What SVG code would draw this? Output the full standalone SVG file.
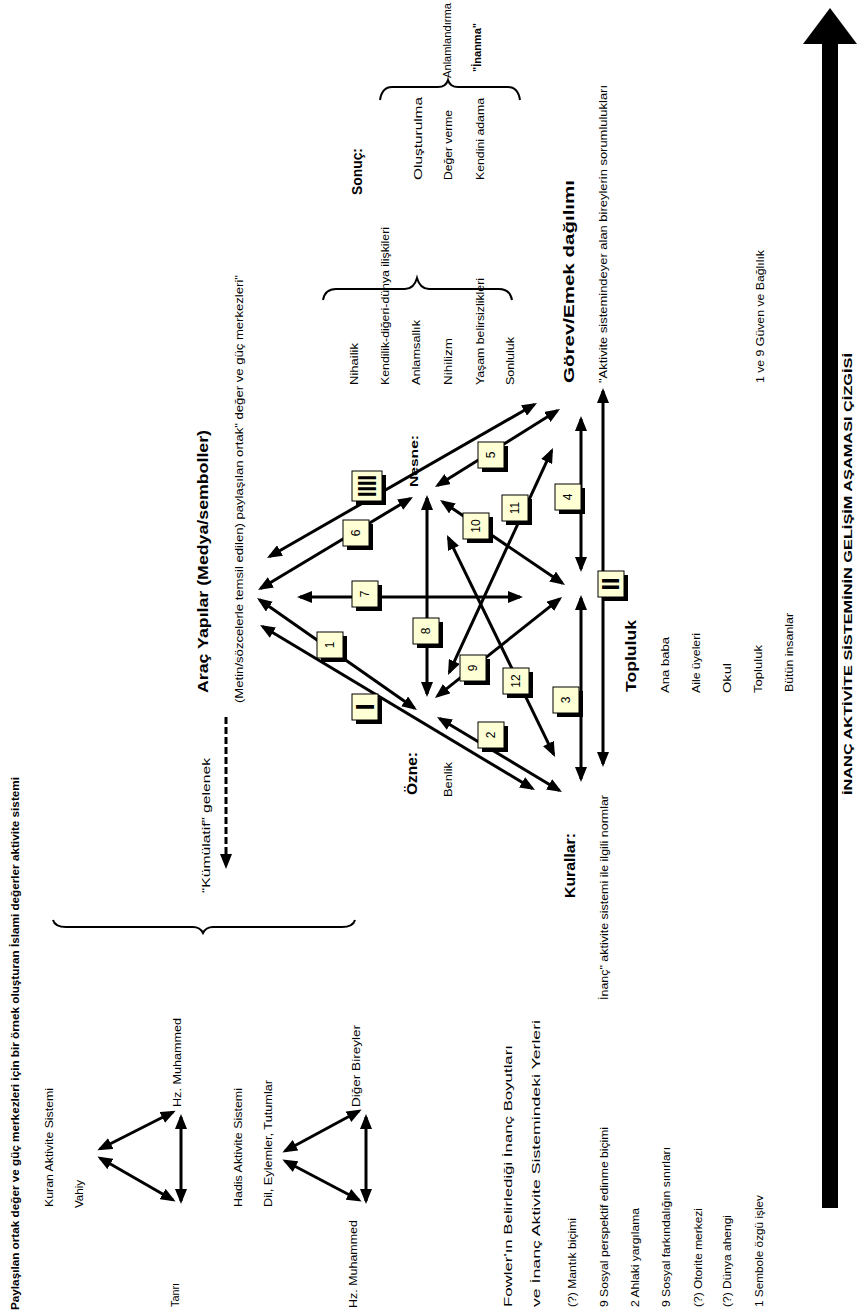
<svg xmlns="http://www.w3.org/2000/svg" width="857" height="1315" viewBox="0 0 857 1315">
<defs>
<marker id="ah" viewBox="0 0 10 8" refX="8" refY="4" markerWidth="5" markerHeight="4" orient="auto-start-reverse" markerUnits="strokeWidth"><path d="M0,0 L10,4 L0,8 z" fill="#000"/></marker>
<marker id="ahd" viewBox="0 0 10 8" refX="8" refY="4" markerWidth="5" markerHeight="4.5" orient="auto" markerUnits="strokeWidth"><path d="M0,0 L10,4 L0,8 z" fill="#000"/></marker>
<style>
.t{font-family:"Liberation Sans",Arial,sans-serif;font-size:11px;fill:#000}
.b{font-weight:bold}
.h{font-size:14px;font-weight:bold}
.ln{stroke:#000;stroke-width:3;fill:none;marker-start:url(#ah);marker-end:url(#ah)}
.br{stroke:#000;stroke-width:2;fill:none}
.bx{fill:#FFFFD5;stroke:#000;stroke-width:1}
.sh{fill:#000}
.n{font-family:"Liberation Sans",Arial,sans-serif;font-size:12px;text-anchor:middle}
.r{font-family:"Liberation Sans",Arial,sans-serif;font-weight:bold;text-anchor:middle}
</style>
</defs>
<rect width="857" height="1315" fill="#fff"/>

<!-- connectors -->
<g id="connectors">
<line class="ln" x1="269.6" y1="556.5" x2="534.4" y2="404.5"/>
<line class="ln" x1="260.6" y1="588.5" x2="410.4" y2="498.5"/>
<line class="ln" x1="259.5" y1="599.7" x2="414.5" y2="708.3"/>
<line class="ln" x1="262.6" y1="626.5" x2="532.4" y2="788.5"/>
<line class="ln" x1="439.6" y1="718.5" x2="559.4" y2="790.5"/>
<line class="ln" x1="437.5" y1="485.4" x2="557.5" y2="410.6"/>
<line class="ln" x1="300" y1="597" x2="520" y2="597"/>
<line class="ln" x1="427" y1="498" x2="427" y2="694"/>
<line class="ln" x1="437.3" y1="696.1" x2="559.7" y2="598.9"/>
<line class="ln" x1="442.5" y1="501.7" x2="562.5" y2="583.3"/>
<line class="ln" x1="449.3" y1="672.3" x2="551.7" y2="450.7"/>
<line class="ln" x1="448.3" y1="537.7" x2="553.7" y2="754.3"/>
<line class="ln" x1="581" y1="419" x2="581" y2="569"/>
<line class="ln" x1="581" y1="598" x2="581" y2="779"/>
<line class="ln" x1="603" y1="391" x2="603" y2="764"/>
<!-- small triangles -->
<line class="ln" x1="100" y1="1149" x2="173" y2="1112"/>
<line class="ln" x1="100" y1="1158" x2="173" y2="1200"/>
<line class="ln" x1="181" y1="1117" x2="181" y2="1201"/>
<line class="ln" x1="285" y1="1151" x2="359" y2="1111"/>
<line class="ln" x1="285" y1="1161" x2="359" y2="1200"/>
<line class="ln" x1="366" y1="1117" x2="366" y2="1201"/>
<!-- dashed -->
<line x1="226" y1="717" x2="226" y2="866" stroke="#000" stroke-width="3" stroke-dasharray="7,3" marker-end="url(#ahd)"/>
</g>

<!-- braces -->
<g id="braces">
<path class="br" d="M53,920 Q55,927 66,927 L193,927 Q200,927 203,933 Q206,927 213,927 L342,927 Q353,927 355,920"/>
<path class="br" d="M323,300 Q325,289 336,289 L405,289 Q414,289 417,278 Q420,289 429,289 L499,289 Q510,289 512,300"/>
<path class="br" d="M380,100 Q382,87 392,87 L438,87 Q446,87 448,80 Q450,87 458,87 L508,87 Q518,87 520,100"/>
</g>

<!-- big arrow -->
<g id="timeline">
<rect x="822" y="40" width="16" height="1168" fill="#000"/>
<polygon points="830,8 857,44 803,44" fill="#000"/>
<text class="t b" font-size="15" transform="translate(852,795) rotate(-90)" textLength="442" lengthAdjust="spacingAndGlyphs">İNANÇ AKTİVİTE SİSTEMİNİN GELİŞİM AŞAMASI ÇİZGİSİ</text>
</g>

<!-- boxes -->
<g id="box-1"><rect x="321" y="636" width="26" height="26" class="sh"/><rect x="317" y="632" width="26" height="26" class="bx"/><text class="n" transform="translate(334.3,645) rotate(-90)">1</text></g>
<g id="box-2"><rect x="482" y="726" width="26" height="26" class="sh"/><rect x="478" y="722" width="26" height="26" class="bx"/><text class="n" transform="translate(495.3,735) rotate(-90)">2</text></g>
<g id="box-3"><rect x="557" y="691" width="26" height="26" class="sh"/><rect x="553" y="687" width="26" height="26" class="bx"/><text class="n" transform="translate(570.3,700) rotate(-90)">3</text></g>
<g id="box-4"><rect x="559" y="488" width="26" height="26" class="sh"/><rect x="555" y="484" width="26" height="26" class="bx"/><text class="n" transform="translate(572.3,497) rotate(-90)">4</text></g>
<g id="box-5"><rect x="482" y="446" width="26" height="26" class="sh"/><rect x="478" y="442" width="26" height="26" class="bx"/><text class="n" transform="translate(495.3,455) rotate(-90)">5</text></g>
<g id="box-6"><rect x="347" y="524" width="26" height="26" class="sh"/><rect x="343" y="520" width="26" height="26" class="bx"/><text class="n" transform="translate(360.3,533) rotate(-90)">6</text></g>
<g id="box-7"><rect x="356" y="585" width="26" height="26" class="sh"/><rect x="352" y="581" width="26" height="26" class="bx"/><text class="n" transform="translate(369.3,594) rotate(-90)">7</text></g>
<g id="box-8"><rect x="417" y="622" width="26" height="26" class="sh"/><rect x="413" y="618" width="26" height="26" class="bx"/><text class="n" transform="translate(430.3,631) rotate(-90)">8</text></g>
<g id="box-9"><rect x="464" y="659" width="26" height="26" class="sh"/><rect x="460" y="655" width="26" height="26" class="bx"/><text class="n" transform="translate(477.3,668) rotate(-90)">9</text></g>
<g id="box-10"><rect x="467" y="517" width="26" height="26" class="sh"/><rect x="463" y="513" width="26" height="26" class="bx"/><text class="n" transform="translate(480.3,526) rotate(-90)">10</text></g>
<g id="box-11"><rect x="506" y="499" width="26" height="26" class="sh"/><rect x="502" y="495" width="26" height="26" class="bx"/><text class="n" transform="translate(519.3,508) rotate(-90)">11</text></g>
<g id="box-12"><rect x="507" y="672" width="26" height="26" class="sh"/><rect x="503" y="668" width="26" height="26" class="bx"/><text class="n" transform="translate(520.3,681) rotate(-90)">12</text></g>
<g id="box-I"><rect x="356" y="698" width="26" height="26" class="sh"/><rect x="352" y="694" width="26" height="26" class="bx"/><text class="r" font-size="26" transform="translate(374.4,707) rotate(-90)">I</text></g>
<g id="box-II"><rect x="602" y="575" width="26" height="26" class="sh"/><rect x="598" y="571" width="26" height="26" class="bx"/><text class="r" font-size="23" transform="translate(619.3,584) rotate(-90)" textLength="13" lengthAdjust="spacingAndGlyphs">II</text></g>
<g id="box-IIII"><rect x="356" y="475" width="30" height="30" class="sh"/><rect x="352" y="471" width="30" height="30" class="bx"/><text class="r" font-size="25" transform="translate(376,486) rotate(-90)" textLength="22" lengthAdjust="spacingAndGlyphs">IIII</text></g>

<!-- node labels -->
<g id="node-arac">
<text class="t h" transform="translate(208,693) rotate(-90)" textLength="263" lengthAdjust="spacingAndGlyphs">Araç Yapılar (Medya/semboller)</text>
<text class="t" transform="translate(243,703) rotate(-90)" textLength="428" lengthAdjust="spacingAndGlyphs">(Metin/sözcelerle temsil edilen) paylaşılan ortak" değer ve güç merkezleri"</text>
</g>
<g id="node-kumulatif">
<text class="t" font-size="16" transform="translate(210,893) rotate(-90)" textLength="135" lengthAdjust="spacingAndGlyphs">“Kümülatif” gelenek</text>
</g>
<g id="node-nesne">
<text class="t b" font-size="12" transform="translate(418,487) rotate(-90)" textLength="52" lengthAdjust="spacingAndGlyphs">Nesne:</text>
</g>
<g id="node-ozne">
<text class="t h" transform="translate(417,795) rotate(-90)" textLength="43" lengthAdjust="spacingAndGlyphs">Özne:</text>
<text class="t" transform="translate(452,797) rotate(-90)" textLength="35" lengthAdjust="spacingAndGlyphs">Benlik</text>
</g>
<g id="node-kurallar">
<text class="t h" transform="translate(575,898) rotate(-90)" textLength="65" lengthAdjust="spacingAndGlyphs">Kurallar:</text>
<text class="t" transform="translate(608,1000) rotate(-90)" textLength="205" lengthAdjust="spacingAndGlyphs">İnanç" aktivite sistemi ile ilgili normlar</text>
</g>
<g id="node-topluluk">
<text class="t h" transform="translate(636,692) rotate(-90)" textLength="72" lengthAdjust="spacingAndGlyphs">Topluluk</text>
<text class="t" transform="translate(669,693) rotate(-90)" textLength="56" lengthAdjust="spacingAndGlyphs">Ana baba</text>
<text class="t" transform="translate(700,693) rotate(-90)" textLength="60" lengthAdjust="spacingAndGlyphs">Aile üyeleri</text>
<text class="t" transform="translate(731,693) rotate(-90)" textLength="30" lengthAdjust="spacingAndGlyphs">Okul</text>
<text class="t" transform="translate(762,693) rotate(-90)" textLength="48" lengthAdjust="spacingAndGlyphs">Topluluk</text>
<text class="t" transform="translate(793,692) rotate(-90)" textLength="79" lengthAdjust="spacingAndGlyphs">Bütün insanlar</text>
</g>
<g id="node-gorev">
<text class="t h" transform="translate(574,383) rotate(-90)" textLength="203" lengthAdjust="spacingAndGlyphs">Görev/Emek dağılımı</text>
<text class="t" transform="translate(607,383) rotate(-90)" textLength="298" lengthAdjust="spacingAndGlyphs">"Aktivite sistemindeyer alan bireylerin sorumlulukları</text>
<text class="t" transform="translate(764,383) rotate(-90)" textLength="133" lengthAdjust="spacingAndGlyphs">1 ve 9 Güven ve Bağlılık</text>
</g>
<g id="node-sorunlar">
<text class="t" transform="translate(358,385) rotate(-90)" textLength="42" lengthAdjust="spacingAndGlyphs">Nihailik</text>
<text class="t" transform="translate(389,385) rotate(-90)" textLength="158" lengthAdjust="spacingAndGlyphs">Kendilik-diğeri-dünya ilişkileri</text>
<text class="t" transform="translate(420,385) rotate(-90)" textLength="65" lengthAdjust="spacingAndGlyphs">Anlamsallık</text>
<text class="t" transform="translate(452,385) rotate(-90)" textLength="47" lengthAdjust="spacingAndGlyphs">Nihilizm</text>
<text class="t" transform="translate(484,385) rotate(-90)" textLength="107" lengthAdjust="spacingAndGlyphs">Yaşam belirsizlikleri</text>
<text class="t" transform="translate(514,385) rotate(-90)" textLength="48" lengthAdjust="spacingAndGlyphs">Sonluluk</text>
</g>
<g id="node-sonuc">
<text class="t h" transform="translate(362,195) rotate(-90)" textLength="47" lengthAdjust="spacingAndGlyphs">Sonuç:</text>
<text class="t" transform="translate(422,180) rotate(-90)" textLength="83" lengthAdjust="spacingAndGlyphs">Oluşturulma</text>
<text class="t" transform="translate(452,180) rotate(-90)" textLength="70" lengthAdjust="spacingAndGlyphs">Değer verme</text>
<text class="t" transform="translate(484,180) rotate(-90)" textLength="82" lengthAdjust="spacingAndGlyphs">Kendini adama</text>
<text class="t" transform="translate(451,78) rotate(-90)" textLength="75" lengthAdjust="spacingAndGlyphs">Anlamlandırma</text>
<text class="t b" font-size="13" transform="translate(481,72) rotate(-90)" textLength="49" lengthAdjust="spacingAndGlyphs">"İnanma"</text>
</g>

<!-- left part -->
<g id="node-title-left">
<text class="t b" transform="translate(19,1310) rotate(-90)" textLength="533" lengthAdjust="spacingAndGlyphs">Paylaşılan ortak değer ve güç merkezleri için bir örnek oluşturan İslami değerler aktivite sistemi</text>
</g>
<g id="node-kuran">
<text class="t" transform="translate(53,1207) rotate(-90)" textLength="119" lengthAdjust="spacingAndGlyphs">Kuran Aktivite Sistemi</text>
<text class="t" transform="translate(83,1208) rotate(-90)" textLength="28" lengthAdjust="spacingAndGlyphs">Vahiy</text>
<text class="t" transform="translate(179,1307) rotate(-90)" textLength="24" lengthAdjust="spacingAndGlyphs">Tanrı</text>
<text class="t" transform="translate(181,1107) rotate(-90)" textLength="89" lengthAdjust="spacingAndGlyphs">Hz. Muhammed</text>
</g>
<g id="node-hadis">
<text class="t" transform="translate(242,1207) rotate(-90)" textLength="119" lengthAdjust="spacingAndGlyphs">Hadis Aktivite Sistemi</text>
<text class="t" transform="translate(272,1207) rotate(-90)" textLength="127" lengthAdjust="spacingAndGlyphs">Dil, Eylemler, Tutumlar</text>
<text class="t" transform="translate(360,1107) rotate(-90)" textLength="82" lengthAdjust="spacingAndGlyphs">Diğer Bireyler</text>
<text class="t" transform="translate(357,1308) rotate(-90)" textLength="88" lengthAdjust="spacingAndGlyphs">Hz. Muhammed</text>
</g>
<g id="node-fowler">
<text class="t" font-size="15" transform="translate(512,1307) rotate(-90)" textLength="262" lengthAdjust="spacingAndGlyphs">Fowler'ın Belirlediği İnanç Boyutları</text>
<text class="t" font-size="15" transform="translate(540,1307) rotate(-90)" textLength="287" lengthAdjust="spacingAndGlyphs">ve İnanç Aktivite Sistemindeki Yerleri</text>
<text class="t" transform="translate(576,1307) rotate(-90)" textLength="89" lengthAdjust="spacingAndGlyphs">(?) Mantık biçimi</text>
<text class="t" transform="translate(608,1307) rotate(-90)" textLength="180" lengthAdjust="spacingAndGlyphs">9 Sosyal perspektif edinme biçimi</text>
<text class="t" transform="translate(639,1307) rotate(-90)" textLength="99" lengthAdjust="spacingAndGlyphs">2 Ahlaki yargılama</text>
<text class="t" transform="translate(670,1307) rotate(-90)" textLength="160" lengthAdjust="spacingAndGlyphs">9 Sosyal farkındalığın sınırları</text>
<text class="t" transform="translate(702,1307) rotate(-90)" textLength="99" lengthAdjust="spacingAndGlyphs">(?) Otorite merkezi</text>
<text class="t" transform="translate(731,1307) rotate(-90)" textLength="92" lengthAdjust="spacingAndGlyphs">(?) Dünya ahengi</text>
<text class="t" transform="translate(763,1307) rotate(-90)" textLength="112" lengthAdjust="spacingAndGlyphs">1 Sembole özgü işlev</text>
</g>
</svg>
